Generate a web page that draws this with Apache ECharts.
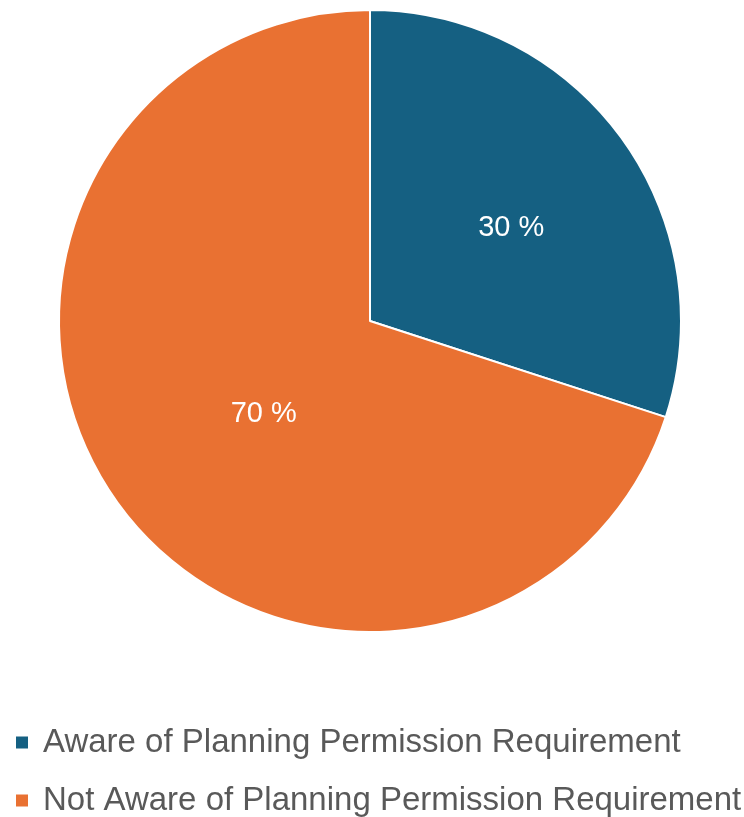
<!DOCTYPE html>
<html>
<head>
<meta charset="utf-8">
<script src="https://cdn.jsdelivr.net/npm/echarts@6/dist/echarts.min.js"></script>
<style>
  html, body { margin: 0; padding: 0; background: #fff; }
  #chart { width: 744px; height: 817px; }
</style>
</head>
<body>
<div id="chart"></div>
<script>
const categories = ['Aware of Planning Permission Requirement', 'Not Aware of Planning Permission Requirement'];
const values = [30, 70];
const colors = ['#156082', '#E97132'];
// nudges so the labels sit where the original put them
const labelPads = [[0, 0, 24, 26], [0, 0, 0, 44]];

const chart = echarts.init(document.getElementById('chart'));

chart.setOption({
  animation: false,
  legend: {
    orient: 'vertical',
    left: 9,
    top: 721,
    height: 200,
    itemWidth: 14,
    itemHeight: 14,
    itemGap: 25,
    icon: 'rect',
    textStyle: {
      fontFamily: 'Liberation Sans, sans-serif',
      fontSize: 33,
      color: '#595959',
      padding: [0, 0, 0, 9],
    },
    data: categories,
  },
  series: [{
    type: 'pie',
    center: [370, 321],
    radius: 311,
    startAngle: 90,
    clockwise: true,
    itemStyle: {
      borderColor: '#fff',
      borderWidth: 2,
    },
    label: {
      position: 'inside',
      formatter: '{c} %',
      color: '#fff',
      fontFamily: 'Liberation Sans, Arial, sans-serif',
      fontSize: 29,
    },
    labelLine: { show: false },
    data: categories.map((name, i) => ({
      name: name,
      value: values[i],
      itemStyle: { color: colors[i] },
      label: { padding: labelPads[i] },
    })),
  }],
});
</script>
</body>
</html>
